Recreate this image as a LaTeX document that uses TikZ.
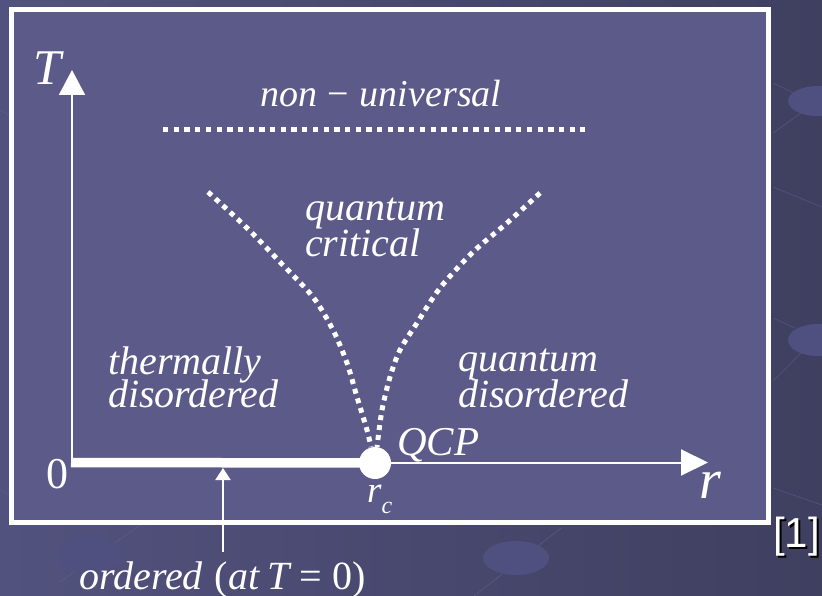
\documentclass[tikz,border=0pt]{standalone}
\usepackage{fontspec}
\setmainfont{Liberation Serif}
\newfontfamily\arialf{Liberation Sans}
\usetikzlibrary{arrows.meta}
\definecolor{slideL}{HTML}{52527E}
\definecolor{slideR}{HTML}{3F3F60}
\definecolor{panel}{HTML}{5B5A88}
\definecolor{ballc}{HTML}{505080}
\definecolor{faint}{HTML}{6A6A96}
\begin{document}
\begin{tikzpicture}[x=1pt,y=-1pt,
  lbl/.style={inner sep=0pt, anchor=base west, text=white, font=\fontsize{40}{40}\selectfont\itshape},
  hdots/.style={white, line width=5pt, dash pattern=on 5.3pt off 5.4pt},
  cdots/.style={white, line width=5pt, dash pattern=on 5pt off 5pt},
  axisline/.style={white, line width=2pt},
  bgball/.style={fill=ballc, draw=none},
  bgline/.style={faint, line width=0.6pt, opacity=0.5}]
\useasboundingbox (0,0) rectangle (822,596);
% slide background
\shade[left color=slideL, right color=slideR] (0,0) rectangle (822,596);
\draw[bgline] (773,83) -- (800,96);
\draw[bgline] (801,113) -- (773,133);
\draw[bgline] (773,187) -- (822,207);
\draw[bgline] (773,318) -- (795,328);
\draw[bgline] (801,353) -- (773,381);
\draw[bgline] (773,488) -- (822,505);
\draw[bgline] (474,596) -- (561,528);
\draw[bgline] (60,582) -- (140,525);
\draw[bgline] (0,490) -- (14,497);
\draw[bgline] (0,110) -- (14,118);
\fill[bgball] (90,555) ellipse [x radius=32, y radius=18];
\fill[bgball] (516,558) ellipse [x radius=33, y radius=17];
\fill[bgball] (818,340) ellipse [x radius=30, y radius=16];
\fill[bgball] (818,101) ellipse [x radius=30, y radius=15];
% panel
\draw[white, line width=5pt, fill=panel] (11.5,10) rectangle (768,522);
% axes
\coordinate (O) at (72,462.5);
\coordinate (Ttip) at (72,70);
\coordinate (rtip) at (708,462.5);
\coordinate (Tbase) at (72,467);
\draw[axisline, -{Triangle[width=26pt,length=25pt]}] (Tbase) -- (Ttip);
\draw[axisline, -{Triangle[width=26pt,length=27pt]}] (O) -- (rtip);
\node[circle, fill=white, minimum size=32pt, inner sep=0pt] (qcp) at (375,463) {};
\draw[white, line width=9.5pt] (71,462.5) -- (qcp.center);
% ordered arrow
\node[lbl] (ord) at (79,589) {ordered\hspace{0.3em}{\upshape(}at\hspace{0.2em}T\hspace{0.25em}{\upshape=}\hspace{0.25em}{\upshape 0)}};
\coordinate (ordtip) at (223,468);
\coordinate (ordfoot) at (223,552);
\draw[axisline, -{Triangle[width=15pt,length=12pt]}] (ordfoot) -- (ordtip);
% phase boundaries
\draw[hdots] (163,129.5) -- (585,129.5);
\draw[cdots] plot[smooth] coordinates {(208,192) (247,228) (280,262) (313,297) (333,330) (347,363) (357,397) (367,430) (371,447)};
\draw[cdots] plot[smooth] coordinates {(540,193) (507,223) (473,252) (440,288) (417,323) (400,350) (390,377) (382,410) (377,447)};
% labels
\node[lbl, font=\fontsize{38}{38}\selectfont\itshape] (nonu) at (260,107) {non\hspace{0.28em}{\upshape −}\hspace{0.28em}universal};
\node[lbl] (qc1) at (305,221) {quantum};
\node[lbl] (qc2) at (305,256) {critical};
\node[lbl] (td1) at (108,374) {thermally};
\node[lbl] (td2) at (108,407) {disordered};
\node[lbl] (qd1) at (458,371) {quantum};
\node[lbl] (qd2) at (458,407) {disordered};
\node[lbl, font=\fontsize{41}{41}\selectfont\itshape] (qcpl) at (397,455) {QCP};
\node[lbl, font=\fontsize{37}{37}\selectfont\itshape] (rc) at (367,502) {r\raisebox{-0.3em}{\fontsize{24}{24}\selectfont c}};
\node[lbl, font=\fontsize{44}{44}\selectfont\upshape] (zero) at (46,488) {0};
\node[lbl, font=\fontsize{50}{50}\selectfont\itshape] (Tl) at (33,85) {T};
\node[lbl, font=\fontsize{56}{56}\selectfont\itshape] (rl) at (699,498) {r};
\node[lbl, text=black, font=\fontsize{42}{42}\selectfont\arialf] (refs) at (775,549.5) {[1]};
\node[lbl, font=\fontsize{42}{42}\selectfont\arialf] (ref) at (773,547.5) {[1]};
\end{tikzpicture}
\end{document}
